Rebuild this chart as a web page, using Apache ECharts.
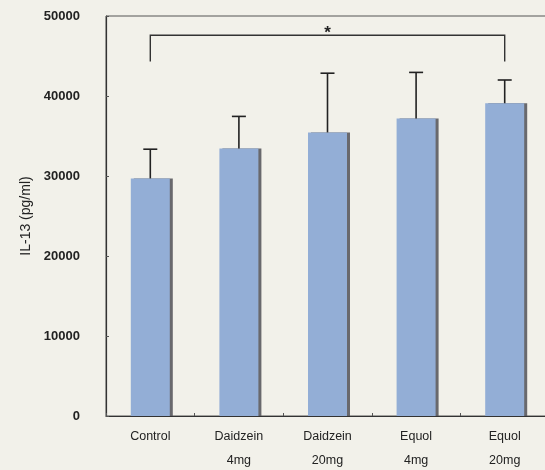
<!DOCTYPE html>
<html><head><meta charset="utf-8">
<script src="https://cdn.jsdelivr.net/npm/echarts@6/dist/echarts.min.js"></script>
<style>html,body{margin:0;padding:0;background:#f2f1ea}#c{width:545px;height:470px}</style>
</head><body><div id="c"></div>
<script>
const categories = ['Control', 'Daidzein\n4mg', 'Daidzein\n20mg', 'Equol\n4mg', 'Equol\n20mg'];
const means = [29700, 33450, 35450, 37200, 39100];
const sdUpper = [33350, 37450, 42850, 42950, 42000];
const bracketFrom = 0, bracketTo = 4;
const bracketTop = 47600, bracketLegBottom = 44300;
const starLabel = '*';
const yTicks = [0, 10000, 20000, 30000, 40000, 50000];

const chart = echarts.init(document.getElementById('c'), null, {renderer: 'canvas'});
const font = 'Liberation Sans, Arial, sans-serif';
chart.setOption({
  backgroundColor: '#f2f1ea',
  animation: false,
  grid: {left: 106, right: -4, top: 16, bottom: 54, outerBoundsMode: 'none', containLabel: false, show: true, borderColor: '#555', borderWidth: 1, backgroundColor: 'transparent'},
  xAxis: {
    type: 'category', data: categories,
    axisLine: {lineStyle: {color: '#333', width: 1.2}},
    axisTick: {show: true, inside: true, length: 3, lineStyle: {color: '#555'}},
    axisLabel: {color: '#222', fontSize: 12.5, fontFamily: font, lineHeight: 24, margin: 9}
  },
  yAxis: {
    type: 'value', min: yTicks[0], max: yTicks[yTicks.length - 1], interval: 10000,
    name: 'IL-13 (pg/ml)', nameLocation: 'middle', nameGap: 67, nameRotate: 90,
    nameTextStyle: {color: '#222', fontSize: 14, fontFamily: font},
    splitLine: {show: false},
    axisLine: {show: true, lineStyle: {color: '#333', width: 1.2}},
    axisTick: {show: true, inside: true, length: 3, lineStyle: {color: '#555'}},
    axisLabel: {color: '#222', fontSize: 13, fontWeight: 'bold', fontFamily: font, margin: 26, formatter: v => String(v)}
  },
  series: [
    {
      type: 'bar', data: means, barWidth: 39,
      itemStyle: {color: '#93aed6', shadowColor: 'rgba(90,90,95,0.9)', shadowOffsetX: 3, shadowOffsetY: 0, shadowBlur: 0},
      z: 2
    },
    {
      type: 'custom', z: 3,
      data: means.map((m, i) => [i, m, sdUpper[i]]),
      renderItem: function (params, api) {
        const lo = api.coord([api.value(0), api.value(1)]);
        const hi = api.coord([api.value(0), api.value(2)]);
        const w = 7;
        return {type: 'group', children: [
          {type: 'line', shape: {x1: hi[0], y1: lo[1], x2: hi[0], y2: hi[1]}, style: {stroke: '#222', lineWidth: 1.6}},
          {type: 'line', shape: {x1: hi[0] - w, y1: hi[1], x2: hi[0] + w, y2: hi[1]}, style: {stroke: '#222', lineWidth: 1.6}}
        ]};
      }
    },
    {
      type: 'custom', z: 4,
      data: [[bracketFrom, bracketTo, bracketTop, bracketLegBottom]],
      renderItem: function (params, api) {
        const a = api.coord([api.value(0), api.value(2)]);
        const b = api.coord([api.value(1), api.value(2)]);
        const aBot = api.coord([api.value(0), api.value(3)]);
        const mid = (a[0] + b[0]) / 2;
        return {type: 'group', children: [
          {type: 'polyline', shape: {points: [[aBot[0], aBot[1]], [a[0], a[1]], [b[0], b[1]], [b[0], aBot[1]]]}, style: {stroke: '#333', lineWidth: 1.4, fill: null}},
          {type: 'text', style: {text: starLabel, x: mid, y: a[1] + 7, align: 'center', verticalAlign: 'bottom', fontSize: 17, fontWeight: 'bold', fill: '#222', fontFamily: font}}
        ]};
      }
    }
  ]
});
</script></body></html>
